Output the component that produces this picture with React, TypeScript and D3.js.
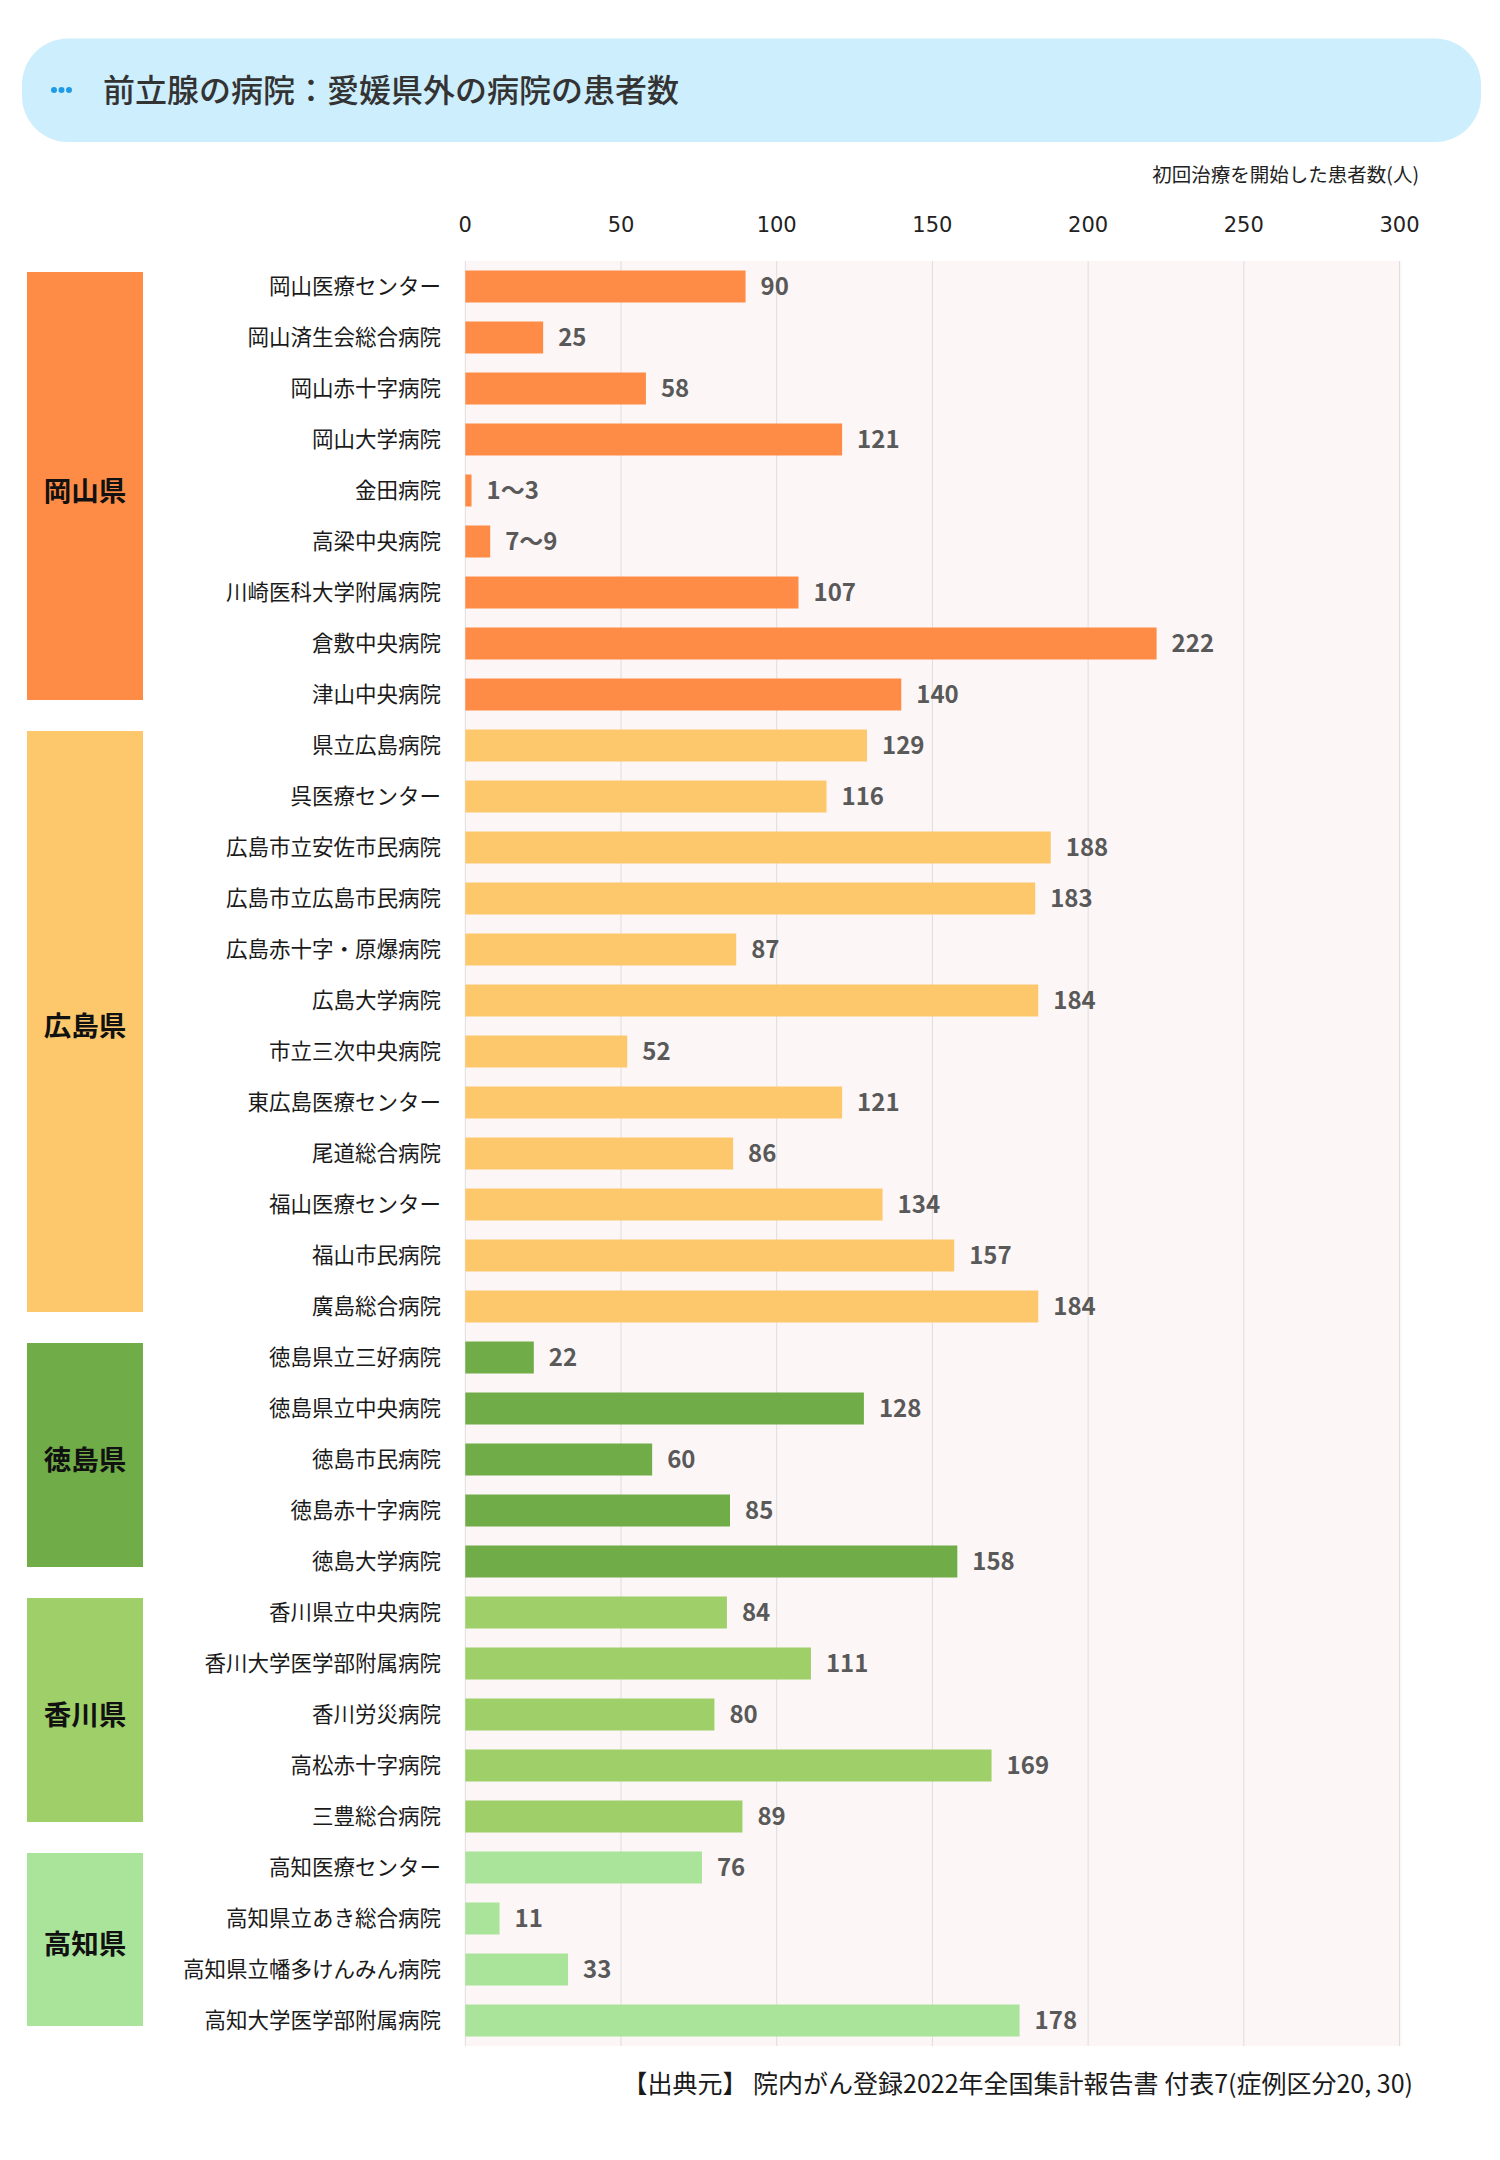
import React, { useRef, useEffect } from 'react';
import * as d3 from 'd3';

const prefectures = ['岡山県', '広島県', '徳島県', '香川県', '高知県'];
const prefColors = ['#ff8c46', '#fdc86c', '#70ac47', '#9ecf68', '#aae39a'];
const groupSizes = [9, 12, 5, 5, 4];

const hospitals = [
  '岡山医療センター', '岡山済生会総合病院', '岡山赤十字病院', '岡山大学病院', '金田病院',
  '高梁中央病院', '川崎医科大学附属病院', '倉敷中央病院', '津山中央病院',
  '県立広島病院', '呉医療センター', '広島市立安佐市民病院', '広島市立広島市民病院',
  '広島赤十字・原爆病院', '広島大学病院', '市立三次中央病院', '東広島医療センター',
  '尾道総合病院', '福山医療センター', '福山市民病院', '廣島総合病院',
  '徳島県立三好病院', '徳島県立中央病院', '徳島市民病院', '徳島赤十字病院', '徳島大学病院',
  '香川県立中央病院', '香川大学医学部附属病院', '香川労災病院', '高松赤十字病院', '三豊総合病院',
  '高知医療センター', '高知県立あき総合病院', '高知県立幡多けんみん病院', '高知大学医学部附属病院',
];

const patients = [
  90, 25, 58, 121, 2, 8, 107, 222, 140,
  129, 116, 188, 183, 87, 184, 52, 121, 86, 134, 157, 184,
  22, 128, 60, 85, 158,
  84, 111, 80, 169, 89,
  76, 11, 33, 178,
];

// hospitals whose count is only published as a range
const rangeLabels: Record<string, string> = {
  '金田病院': '1〜3',
  '高梁中央病院': '7〜9',
};

const xTicks = [0, 50, 100, 150, 200, 250, 300];

const title = '前立腺の病院：愛媛県外の病院の患者数';
const axisTitle = '初回治療を開始した患者数(人)';
const sourceNote = '【出典元】 院内がん登録2022年全国集計報告書 付表7(症例区分20, 30)';

const W = 1500;
const H = 2160;
const JP = '"Noto Sans CJK JP", "Noto Sans", sans-serif';

const App: React.FC = () => {
  const svgRef = useRef<SVGSVGElement>(null);

  useEffect(() => {
    if (!svgRef.current) return;
    const svg = d3.select(svgRef.current);
    svg.selectAll('*').remove();

    const x = d3.scaleLinear().domain([0, 300]).range([465.3, 1399.5]);
    const y = d3
      .scaleBand<string>()
      .domain(hospitals)
      .range([261, 261 + hospitals.length * 51])
      .paddingInner(19 / 51)
      .paddingOuter(9.5 / 51);

    // group index per hospital
    const groupOf: number[] = [];
    groupSizes.forEach((n, g) => {
      for (let i = 0; i < n; i++) groupOf.push(g);
    });

    // header
    svg.append('rect')
      .attr('x', 22).attr('y', 38.5)
      .attr('width', 1459).attr('height', 103.5)
      .attr('rx', 46).attr('ry', 46)
      .attr('fill', '#cdeefd');
    [54, 61.5, 69].forEach((cx) => {
      svg.append('circle').attr('cx', cx).attr('cy', 90).attr('r', 3).attr('fill', '#1e9be6');
    });
    svg.append('text')
      .attr('x', 103).attr('y', 90)
      .attr('dy', '0.36em')
      .attr('font-family', JP)
      .attr('font-size', 32)
      .attr('font-weight', 500)
      .attr('fill', '#333')
      .text(title);

    // axis title
    svg.append('text')
      .attr('x', 1419).attr('y', 175)
      .attr('dy', '0.36em')
      .attr('text-anchor', 'end')
      .attr('font-family', JP)
      .attr('font-size', 19.5)
      .attr('fill', '#222')
      .text(axisTitle);

    // plot background
    const [y0, y1] = y.range();
    svg.append('rect')
      .attr('x', x(0)).attr('y', y0)
      .attr('width', x(300) - x(0) + 2).attr('height', y1 - y0)
      .attr('fill', '#fcf6f6');

    // grid + tick labels
    xTicks.forEach((t) => {
      svg.append('line')
        .attr('x1', x(t)).attr('x2', x(t))
        .attr('y1', y0).attr('y2', y1)
        .attr('stroke', '#dedede').attr('stroke-width', 1);
      svg.append('text')
        .attr('x', x(t)).attr('y', 224)
        .attr('dy', '0.36em')
        .attr('text-anchor', 'middle')
        .attr('font-family', '"DejaVu Sans", sans-serif')
        .attr('font-size', 21)
        .attr('fill', '#222')
        .text(t);
    });

    // prefecture boxes
    let start = 0;
    groupSizes.forEach((n, g) => {
      const top = (y(hospitals[start]) as number) + 1.5;
      const h = n * y.step() - 31;
      svg.append('rect')
        .attr('x', 27).attr('y', top)
        .attr('width', 116).attr('height', h)
        .attr('fill', prefColors[g]);
      svg.append('text')
        .attr('x', 85).attr('y', top + h / 2 + 5)
        .attr('dy', '0.36em')
        .attr('text-anchor', 'middle')
        .attr('font-family', JP)
        .attr('font-size', 27.5)
        .attr('font-weight', 700)
        .attr('fill', '#111')
        .text(prefectures[g]);
      start += n;
    });

    // bars
    hospitals.forEach((name, i) => {
      const by = y(name) as number;
      const cy = by + y.bandwidth() / 2;
      svg.append('rect')
        .attr('x', x(0)).attr('y', by)
        .attr('width', x(patients[i]) - x(0))
        .attr('height', y.bandwidth())
        .attr('fill', prefColors[groupOf[i]]);

      svg.append('text')
        .attr('x', 441).attr('y', cy)
        .attr('dy', '0.36em')
        .attr('text-anchor', 'end')
        .attr('font-family', JP)
        .attr('font-size', 21.5)
        .attr('fill', '#1a1a1a')
        .text(name);

      svg.append('text')
        .attr('x', x(patients[i]) + 15).attr('y', cy)
        .attr('dy', '0.36em')
        .attr('font-family', JP)
        .attr('font-size', 24)
        .attr('font-weight', 700)
        .attr('fill', '#595959')
        .text(rangeLabels[name] ?? String(patients[i]));
    });

    // source
    svg.append('text')
      .attr('x', 1413).attr('y', 2084)
      .attr('dy', '0.36em')
      .attr('text-anchor', 'end')
      .attr('font-family', JP)
      .attr('font-size', 25)
      .attr('fill', '#1a1a1a')
      .text(sourceNote);
  }, []);

  return (
    <svg
      ref={svgRef}
      width={W}
      height={H}
      style={{ position: 'absolute', left: 0, top: 0, background: '#fff', display: 'block' }}
    />
  );
};

export default App;
